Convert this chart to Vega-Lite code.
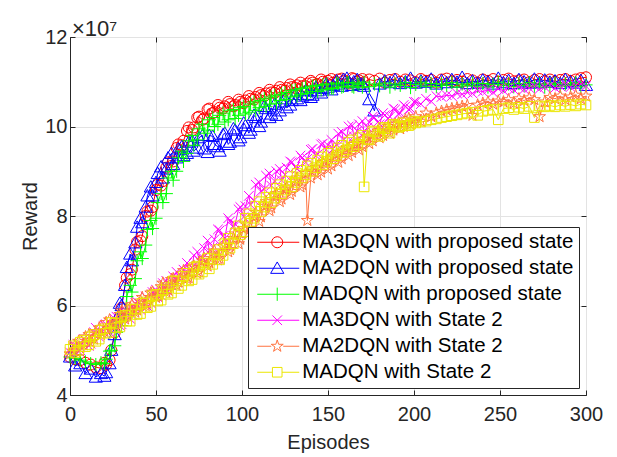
{
"$schema":"https://vega.github.io/schema/vega-lite/v6.json",
"width":516,"height":358,
"autosize":{"type":"none"},
"padding":{"left":70,"top":37,"right":31,"bottom":62},
"background":"white",
"title":{"text":"×10⁷","anchor":"start","frame":"group","fontSize":22,"fontWeight":"normal","font":"Liberation Sans","color":"#262626","offset":4,"baseline":"alphabetic","dx":2,"dy":35},
"config":{"view":{"stroke":"#262626","strokeWidth":1},"font":"Liberation Sans"},
"datasets":{
"series":[{"s":"a","name":"MA3DQN with proposed state"},{"s":"b","name":"MA2DQN with proposed state"},{"s":"c","name":"MADQN with proposed state"},{"s":"d","name":"MA3DQN with State 2"},{"s":"f","name":"MA2DQN with State 2"},{"s":"g","name":"MADQN with State 2"}],
"pts":[
{"e":0,"s":"a","r":4.85},{"e":3,"s":"a","r":4.8},{"e":6,"s":"a","r":4.78},{"e":9,"s":"a","r":4.72},{"e":12,"s":"a","r":4.68},{"e":15,"s":"a","r":4.62},{"e":18,"s":"a","r":4.6},{"e":21,"s":"a","r":4.68},{"e":24,"s":"a","r":5.0},{"e":27,"s":"a","r":5.6},{"e":30,"s":"a","r":5.95},{"e":33,"s":"a","r":6.62},{"e":36,"s":"a","r":6.8},{"e":39,"s":"a","r":7.42},{"e":42,"s":"a","r":7.55},{"e":45,"s":"a","r":8.1},{"e":48,"s":"a","r":8.2},{"e":51,"s":"a","r":8.7},{"e":54,"s":"a","r":8.78},{"e":57,"s":"a","r":9.2},{"e":60,"s":"a","r":9.22},{"e":63,"s":"a","r":9.6},{"e":66,"s":"a","r":9.68},{"e":69,"s":"a","r":9.98},{"e":72,"s":"a","r":9.98},{"e":75,"s":"a","r":10.22},{"e":78,"s":"a","r":10.18},{"e":81,"s":"a","r":10.4},{"e":84,"s":"a","r":10.32},{"e":87,"s":"a","r":10.42},{"e":90,"s":"a","r":10.45},{"e":93,"s":"a","r":10.5},{"e":96,"s":"a","r":10.48},{"e":99,"s":"a","r":10.55},{"e":102,"s":"a","r":10.58},{"e":105,"s":"a","r":10.62},{"e":108,"s":"a","r":10.66},{"e":111,"s":"a","r":10.7},{"e":114,"s":"a","r":10.74},{"e":117,"s":"a","r":10.76},{"e":120,"s":"a","r":10.8},{"e":123,"s":"a","r":10.82},{"e":126,"s":"a","r":10.86},{"e":129,"s":"a","r":10.88},{"e":132,"s":"a","r":10.92},{"e":135,"s":"a","r":10.9},{"e":138,"s":"a","r":10.96},{"e":141,"s":"a","r":10.98},{"e":144,"s":"a","r":10.95},{"e":147,"s":"a","r":11.0},{"e":150,"s":"a","r":11.02},{"e":153,"s":"a","r":10.98},{"e":156,"s":"a","r":11.05},{"e":159,"s":"a","r":11.02},{"e":162,"s":"a","r":10.96},{"e":165,"s":"a","r":11.06},{"e":168,"s":"a","r":11.03},{"e":171,"s":"a","r":10.99},{"e":174,"s":"a","r":11.05},{"e":177,"s":"a","r":11.02},{"e":180,"s":"a","r":11.07},{"e":183,"s":"a","r":10.98},{"e":186,"s":"a","r":11.04},{"e":189,"s":"a","r":11.06},{"e":192,"s":"a","r":11.0},{"e":195,"s":"a","r":11.05},{"e":198,"s":"a","r":11.03},{"e":201,"s":"a","r":10.99},{"e":204,"s":"a","r":11.06},{"e":207,"s":"a","r":11.02},{"e":210,"s":"a","r":11.04},{"e":213,"s":"a","r":10.98},{"e":216,"s":"a","r":11.05},{"e":219,"s":"a","r":11.07},{"e":222,"s":"a","r":11.01},{"e":225,"s":"a","r":11.04},{"e":228,"s":"a","r":11.0},{"e":231,"s":"a","r":11.06},{"e":234,"s":"a","r":11.03},{"e":237,"s":"a","r":10.98},{"e":240,"s":"a","r":11.05},{"e":243,"s":"a","r":11.02},{"e":246,"s":"a","r":11.06},{"e":249,"s":"a","r":11.0},{"e":252,"s":"a","r":11.04},{"e":255,"s":"a","r":11.07},{"e":258,"s":"a","r":11.01},{"e":261,"s":"a","r":11.03},{"e":264,"s":"a","r":11.05},{"e":267,"s":"a","r":10.99},{"e":270,"s":"a","r":11.04},{"e":273,"s":"a","r":11.06},{"e":276,"s":"a","r":11.02},{"e":279,"s":"a","r":11.05},{"e":282,"s":"a","r":11.0},{"e":285,"s":"a","r":11.04},{"e":288,"s":"a","r":11.06},{"e":291,"s":"a","r":11.02},{"e":294,"s":"a","r":11.05},{"e":297,"s":"a","r":11.08},{"e":300,"s":"a","r":11.1},
{"e":20,"s":"a","r":4.72},{"e":23,"s":"a","r":4.78},{"e":26,"s":"a","r":5.4},{"e":29,"s":"a","r":5.75},{"e":32,"s":"a","r":6.45},{"e":35,"s":"a","r":6.7},{"e":38,"s":"a","r":7.25},{"e":41,"s":"a","r":7.45},{"e":44,"s":"a","r":8.0},{"e":47,"s":"a","r":8.12},{"e":50,"s":"a","r":8.58},{"e":53,"s":"a","r":8.68},{"e":56,"s":"a","r":9.08},{"e":59,"s":"a","r":9.12},{"e":62,"s":"a","r":9.52},{"e":65,"s":"a","r":9.58},{"e":68,"s":"a","r":9.9},{"e":71,"s":"a","r":9.92},{"e":74,"s":"a","r":10.2},{"e":77,"s":"a","r":10.15},{"e":80,"s":"a","r":10.38},{"e":83,"s":"a","r":10.3},{"e":86,"s":"a","r":10.48},{"e":89,"s":"a","r":10.4},{"e":92,"s":"a","r":10.55},{"e":95,"s":"a","r":10.45},{"e":98,"s":"a","r":10.6},{"e":101,"s":"a","r":10.52},{"e":104,"s":"a","r":10.68},{"e":107,"s":"a","r":10.6},{"e":110,"s":"a","r":10.75},{"e":113,"s":"a","r":10.68},{"e":116,"s":"a","r":10.82},{"e":119,"s":"a","r":10.75},{"e":122,"s":"a","r":10.88},{"e":125,"s":"a","r":10.8},{"e":128,"s":"a","r":10.94},{"e":131,"s":"a","r":10.86},{"e":134,"s":"a","r":10.98},{"e":137,"s":"a","r":10.9},{"e":140,"s":"a","r":11.02},{"e":143,"s":"a","r":10.94},{"e":146,"s":"a","r":11.05},{"e":149,"s":"a","r":10.97},{"e":152,"s":"a","r":11.06},{"e":155,"s":"a","r":10.99},{"e":158,"s":"a","r":11.07},{"e":161,"s":"a","r":11.0},{"e":164,"s":"a","r":11.08},{"e":167,"s":"a","r":11.0},{"e":170,"s":"a","r":11.06},
{"e":0,"s":"b","r":4.85},{"e":3,"s":"b","r":4.65},{"e":6,"s":"b","r":4.7},{"e":9,"s":"b","r":4.48},{"e":12,"s":"b","r":4.58},{"e":15,"s":"b","r":4.4},{"e":18,"s":"b","r":4.48},{"e":21,"s":"b","r":4.5},{"e":24,"s":"b","r":5.0},{"e":27,"s":"b","r":5.7},{"e":30,"s":"b","r":6.0},{"e":33,"s":"b","r":6.85},{"e":36,"s":"b","r":7.0},{"e":39,"s":"b","r":7.75},{"e":42,"s":"b","r":7.85},{"e":45,"s":"b","r":8.45},{"e":48,"s":"b","r":8.45},{"e":51,"s":"b","r":8.95},{"e":54,"s":"b","r":8.85},{"e":57,"s":"b","r":9.3},{"e":60,"s":"b","r":9.15},{"e":63,"s":"b","r":9.5},{"e":66,"s":"b","r":9.35},{"e":69,"s":"b","r":9.65},{"e":72,"s":"b","r":9.45},{"e":75,"s":"b","r":9.75},{"e":78,"s":"b","r":9.5},{"e":81,"s":"b","r":9.8},{"e":84,"s":"b","r":9.6},{"e":87,"s":"b","r":9.45},{"e":90,"s":"b","r":9.85},{"e":93,"s":"b","r":9.65},{"e":96,"s":"b","r":9.92},{"e":99,"s":"b","r":9.75},{"e":102,"s":"b","r":10.02},{"e":105,"s":"b","r":9.92},{"e":108,"s":"b","r":10.2},{"e":111,"s":"b","r":10.1},{"e":114,"s":"b","r":10.4},{"e":117,"s":"b","r":10.28},{"e":120,"s":"b","r":10.25},{"e":123,"s":"b","r":10.55},{"e":126,"s":"b","r":10.42},{"e":129,"s":"b","r":10.58},{"e":132,"s":"b","r":10.62},{"e":135,"s":"b","r":10.68},{"e":138,"s":"b","r":10.72},{"e":141,"s":"b","r":10.7},{"e":144,"s":"b","r":10.8},{"e":147,"s":"b","r":10.85},{"e":150,"s":"b","r":10.88},{"e":153,"s":"b","r":10.92},{"e":156,"s":"b","r":10.95},{"e":159,"s":"b","r":11.05},{"e":162,"s":"b","r":10.98},{"e":165,"s":"b","r":11.0},{"e":168,"s":"b","r":10.94},{"e":171,"s":"b","r":10.9},{"e":174,"s":"b","r":10.6},{"e":177,"s":"b","r":10.35},{"e":180,"s":"b","r":10.95},{"e":183,"s":"b","r":11.02},{"e":186,"s":"b","r":10.98},{"e":189,"s":"b","r":11.05},{"e":192,"s":"b","r":10.96},{"e":195,"s":"b","r":11.0},{"e":198,"s":"b","r":11.08},{"e":201,"s":"b","r":10.97},{"e":204,"s":"b","r":11.02},{"e":207,"s":"b","r":10.99},{"e":210,"s":"b","r":11.06},{"e":213,"s":"b","r":10.95},{"e":216,"s":"b","r":11.03},{"e":219,"s":"b","r":10.98},{"e":222,"s":"b","r":11.05},{"e":225,"s":"b","r":10.99},{"e":228,"s":"b","r":11.1},{"e":231,"s":"b","r":10.96},{"e":234,"s":"b","r":11.02},{"e":237,"s":"b","r":10.97},{"e":240,"s":"b","r":11.04},{"e":243,"s":"b","r":11.0},{"e":246,"s":"b","r":10.95},{"e":249,"s":"b","r":11.08},{"e":252,"s":"b","r":10.98},{"e":255,"s":"b","r":11.03},{"e":258,"s":"b","r":10.96},{"e":261,"s":"b","r":11.05},{"e":264,"s":"b","r":11.0},{"e":267,"s":"b","r":10.97},{"e":270,"s":"b","r":11.06},{"e":273,"s":"b","r":10.98},{"e":276,"s":"b","r":11.04},{"e":279,"s":"b","r":10.99},{"e":282,"s":"b","r":11.02},{"e":285,"s":"b","r":10.96},{"e":288,"s":"b","r":11.05},{"e":291,"s":"b","r":11.0},{"e":294,"s":"b","r":10.97},{"e":297,"s":"b","r":11.03},{"e":300,"s":"b","r":10.92},
{"e":20,"s":"b","r":4.42},{"e":23,"s":"b","r":4.7},{"e":26,"s":"b","r":5.35},{"e":29,"s":"b","r":6.05},{"e":32,"s":"b","r":6.45},{"e":35,"s":"b","r":7.15},{"e":38,"s":"b","r":7.4},{"e":41,"s":"b","r":7.95},{"e":44,"s":"b","r":8.2},{"e":47,"s":"b","r":8.65},{"e":50,"s":"b","r":8.75},{"e":53,"s":"b","r":9.1},{"e":56,"s":"b","r":9.05},{"e":59,"s":"b","r":9.4},{"e":62,"s":"b","r":9.3},{"e":65,"s":"b","r":9.55},{"e":68,"s":"b","r":9.4},{"e":71,"s":"b","r":9.68},{"e":74,"s":"b","r":9.52},{"e":77,"s":"b","r":9.8},{"e":80,"s":"b","r":9.42},{"e":83,"s":"b","r":9.78},{"e":86,"s":"b","r":9.55},{"e":89,"s":"b","r":9.82},{"e":92,"s":"b","r":9.6},{"e":95,"s":"b","r":9.95},{"e":98,"s":"b","r":9.68},{"e":101,"s":"b","r":10.08},{"e":104,"s":"b","r":9.85},{"e":107,"s":"b","r":10.25},{"e":110,"s":"b","r":10.0},{"e":113,"s":"b","r":10.45},{"e":116,"s":"b","r":10.2},{"e":119,"s":"b","r":10.5},{"e":122,"s":"b","r":10.35},{"e":125,"s":"b","r":10.62},{"e":128,"s":"b","r":10.48},{"e":131,"s":"b","r":10.72},{"e":134,"s":"b","r":10.58},{"e":137,"s":"b","r":10.8},{"e":140,"s":"b","r":10.65},{"e":143,"s":"b","r":10.88},{"e":146,"s":"b","r":10.75},{"e":149,"s":"b","r":10.95},{"e":152,"s":"b","r":10.82},{"e":155,"s":"b","r":11.02},{"e":158,"s":"b","r":10.9},{"e":161,"s":"b","r":11.08},{"e":164,"s":"b","r":10.92},{"e":167,"s":"b","r":11.05},{"e":170,"s":"b","r":10.95},
{"e":0,"s":"c","r":4.85},{"e":3,"s":"c","r":4.82},{"e":6,"s":"c","r":4.78},{"e":9,"s":"c","r":4.74},{"e":12,"s":"c","r":4.7},{"e":15,"s":"c","r":4.68},{"e":18,"s":"c","r":4.72},{"e":21,"s":"c","r":4.8},{"e":24,"s":"c","r":5.0},{"e":27,"s":"c","r":5.4},{"e":30,"s":"c","r":5.55},{"e":33,"s":"c","r":6.2},{"e":36,"s":"c","r":6.3},{"e":39,"s":"c","r":7.0},{"e":42,"s":"c","r":7.05},{"e":45,"s":"c","r":7.7},{"e":48,"s":"c","r":7.72},{"e":51,"s":"c","r":8.3},{"e":54,"s":"c","r":8.3},{"e":57,"s":"c","r":8.85},{"e":60,"s":"c","r":8.8},{"e":63,"s":"c","r":9.3},{"e":66,"s":"c","r":9.22},{"e":69,"s":"c","r":9.68},{"e":72,"s":"c","r":9.58},{"e":75,"s":"c","r":9.95},{"e":78,"s":"c","r":9.85},{"e":81,"s":"c","r":10.15},{"e":84,"s":"c","r":10.0},{"e":87,"s":"c","r":10.25},{"e":90,"s":"c","r":10.1},{"e":93,"s":"c","r":10.35},{"e":96,"s":"c","r":10.18},{"e":99,"s":"c","r":10.42},{"e":102,"s":"c","r":10.28},{"e":105,"s":"c","r":10.5},{"e":108,"s":"c","r":10.36},{"e":111,"s":"c","r":10.58},{"e":114,"s":"c","r":10.45},{"e":117,"s":"c","r":10.66},{"e":120,"s":"c","r":10.52},{"e":123,"s":"c","r":10.72},{"e":126,"s":"c","r":10.6},{"e":129,"s":"c","r":10.8},{"e":132,"s":"c","r":10.68},{"e":135,"s":"c","r":10.85},{"e":138,"s":"c","r":10.74},{"e":141,"s":"c","r":10.9},{"e":144,"s":"c","r":10.78},{"e":147,"s":"c","r":10.93},{"e":150,"s":"c","r":10.82},{"e":153,"s":"c","r":10.85},{"e":156,"s":"c","r":10.95},{"e":159,"s":"c","r":10.9},{"e":162,"s":"c","r":10.98},{"e":165,"s":"c","r":10.88},{"e":168,"s":"c","r":10.94},{"e":171,"s":"c","r":10.99},{"e":174,"s":"c","r":10.89},{"e":177,"s":"c","r":10.95},{"e":180,"s":"c","r":10.91},{"e":183,"s":"c","r":10.97},{"e":186,"s":"c","r":10.88},{"e":189,"s":"c","r":10.95},{"e":192,"s":"c","r":10.92},{"e":195,"s":"c","r":10.98},{"e":198,"s":"c","r":10.87},{"e":201,"s":"c","r":10.94},{"e":204,"s":"c","r":10.99},{"e":207,"s":"c","r":10.9},{"e":210,"s":"c","r":10.96},{"e":213,"s":"c","r":10.89},{"e":216,"s":"c","r":10.95},{"e":219,"s":"c","r":10.92},{"e":222,"s":"c","r":10.98},{"e":225,"s":"c","r":10.88},{"e":228,"s":"c","r":10.95},{"e":231,"s":"c","r":10.91},{"e":234,"s":"c","r":10.97},{"e":237,"s":"c","r":10.9},{"e":240,"s":"c","r":10.96},{"e":243,"s":"c","r":10.88},{"e":246,"s":"c","r":10.94},{"e":249,"s":"c","r":10.99},{"e":252,"s":"c","r":10.91},{"e":255,"s":"c","r":10.95},{"e":258,"s":"c","r":10.89},{"e":261,"s":"c","r":10.96},{"e":264,"s":"c","r":10.92},{"e":267,"s":"c","r":10.98},{"e":270,"s":"c","r":10.9},{"e":273,"s":"c","r":10.95},{"e":276,"s":"c","r":10.88},{"e":279,"s":"c","r":10.94},{"e":282,"s":"c","r":10.97},{"e":285,"s":"c","r":10.9},{"e":288,"s":"c","r":10.95},{"e":291,"s":"c","r":10.92},{"e":294,"s":"c","r":10.98},{"e":297,"s":"c","r":10.89},{"e":300,"s":"c","r":10.93},
{"e":20,"s":"c","r":4.7},{"e":23,"s":"c","r":4.98},{"e":26,"s":"c","r":5.1},{"e":29,"s":"c","r":5.65},{"e":32,"s":"c","r":5.8},{"e":35,"s":"c","r":6.45},{"e":38,"s":"c","r":6.6},{"e":41,"s":"c","r":7.2},{"e":44,"s":"c","r":7.35},{"e":47,"s":"c","r":7.9},{"e":50,"s":"c","r":7.95},{"e":53,"s":"c","r":8.5},{"e":56,"s":"c","r":8.5},{"e":59,"s":"c","r":9.0},{"e":62,"s":"c","r":9.0},{"e":65,"s":"c","r":9.45},{"e":68,"s":"c","r":9.4},{"e":71,"s":"c","r":9.8},{"e":74,"s":"c","r":9.7},{"e":77,"s":"c","r":10.05},{"e":80,"s":"c","r":9.92},{"e":83,"s":"c","r":10.2},{"e":86,"s":"c","r":10.05},{"e":89,"s":"c","r":10.3},{"e":92,"s":"c","r":10.15},{"e":95,"s":"c","r":10.38},{"e":98,"s":"c","r":10.25},{"e":101,"s":"c","r":10.45},{"e":104,"s":"c","r":10.32},{"e":107,"s":"c","r":10.55},{"e":110,"s":"c","r":10.42},{"e":113,"s":"c","r":10.62},{"e":116,"s":"c","r":10.5},{"e":119,"s":"c","r":10.7},{"e":122,"s":"c","r":10.58},{"e":125,"s":"c","r":10.76},{"e":128,"s":"c","r":10.66},{"e":131,"s":"c","r":10.82},{"e":134,"s":"c","r":10.72},{"e":137,"s":"c","r":10.88},{"e":140,"s":"c","r":10.78},{"e":143,"s":"c","r":10.92},{"e":146,"s":"c","r":10.82},{"e":149,"s":"c","r":10.95},{"e":152,"s":"c","r":10.86},{"e":155,"s":"c","r":10.97},{"e":158,"s":"c","r":10.88},{"e":161,"s":"c","r":10.98},{"e":164,"s":"c","r":10.9},{"e":167,"s":"c","r":10.97},{"e":170,"s":"c","r":10.88},
{"e":0,"s":"d","r":4.95},{"e":3,"s":"d","r":5.1},{"e":6,"s":"d","r":5.0},{"e":9,"s":"d","r":5.22},{"e":12,"s":"d","r":5.15},{"e":15,"s":"d","r":5.5},{"e":18,"s":"d","r":5.38},{"e":21,"s":"d","r":5.58},{"e":24,"s":"d","r":5.45},{"e":27,"s":"d","r":5.75},{"e":30,"s":"d","r":5.58},{"e":33,"s":"d","r":5.88},{"e":36,"s":"d","r":5.78},{"e":39,"s":"d","r":6.08},{"e":42,"s":"d","r":5.98},{"e":45,"s":"d","r":5.98},{"e":48,"s":"d","r":6.3},{"e":51,"s":"d","r":6.18},{"e":54,"s":"d","r":6.5},{"e":57,"s":"d","r":6.32},{"e":60,"s":"d","r":6.65},{"e":63,"s":"d","r":6.52},{"e":66,"s":"d","r":6.8},{"e":69,"s":"d","r":6.72},{"e":72,"s":"d","r":7.12},{"e":75,"s":"d","r":7.02},{"e":78,"s":"d","r":7.28},{"e":81,"s":"d","r":7.22},{"e":84,"s":"d","r":7.48},{"e":87,"s":"d","r":7.68},{"e":90,"s":"d","r":7.5},{"e":93,"s":"d","r":7.88},{"e":96,"s":"d","r":7.82},{"e":99,"s":"d","r":8.2},{"e":102,"s":"d","r":8.22},{"e":105,"s":"d","r":8.25},{"e":108,"s":"d","r":8.7},{"e":111,"s":"d","r":8.55},{"e":114,"s":"d","r":8.9},{"e":117,"s":"d","r":8.68},{"e":120,"s":"d","r":9.0},{"e":123,"s":"d","r":8.8},{"e":126,"s":"d","r":9.08},{"e":129,"s":"d","r":9.2},{"e":132,"s":"d","r":9.05},{"e":135,"s":"d","r":9.3},{"e":138,"s":"d","r":9.28},{"e":141,"s":"d","r":9.5},{"e":144,"s":"d","r":9.38},{"e":147,"s":"d","r":9.62},{"e":150,"s":"d","r":9.58},{"e":153,"s":"d","r":9.5},{"e":156,"s":"d","r":9.84},{"e":159,"s":"d","r":9.7},{"e":162,"s":"d","r":10.0},{"e":165,"s":"d","r":9.78},{"e":168,"s":"d","r":10.05},{"e":171,"s":"d","r":9.86},{"e":174,"s":"d","r":10.1},{"e":177,"s":"d","r":10.2},{"e":180,"s":"d","r":10.05},{"e":183,"s":"d","r":10.25},{"e":186,"s":"d","r":10.22},{"e":189,"s":"d","r":10.38},{"e":192,"s":"d","r":10.3},{"e":195,"s":"d","r":10.45},{"e":198,"s":"d","r":10.4},{"e":201,"s":"d","r":10.55},{"e":204,"s":"d","r":10.5},{"e":207,"s":"d","r":10.62},{"e":210,"s":"d","r":10.56},{"e":213,"s":"d","r":10.68},{"e":216,"s":"d","r":10.66},{"e":219,"s":"d","r":10.7},{"e":222,"s":"d","r":10.68},{"e":225,"s":"d","r":10.74},{"e":228,"s":"d","r":10.72},{"e":231,"s":"d","r":10.76},{"e":234,"s":"d","r":10.74},{"e":237,"s":"d","r":10.8},{"e":240,"s":"d","r":10.78},{"e":243,"s":"d","r":10.82},{"e":246,"s":"d","r":10.76},{"e":249,"s":"d","r":10.84},{"e":252,"s":"d","r":10.8},{"e":255,"s":"d","r":10.85},{"e":258,"s":"d","r":10.82},{"e":261,"s":"d","r":10.88},{"e":264,"s":"d","r":10.83},{"e":267,"s":"d","r":10.86},{"e":270,"s":"d","r":10.9},{"e":273,"s":"d","r":10.84},{"e":276,"s":"d","r":10.88},{"e":279,"s":"d","r":10.92},{"e":282,"s":"d","r":10.86},{"e":285,"s":"d","r":10.9},{"e":288,"s":"d","r":10.94},{"e":291,"s":"d","r":10.88},{"e":294,"s":"d","r":10.92},{"e":297,"s":"d","r":10.95},{"e":300,"s":"d","r":10.9},
{"e":2,"s":"d","r":5.12},{"e":5,"s":"d","r":4.98},{"e":8,"s":"d","r":5.25},{"e":11,"s":"d","r":5.1},{"e":14,"s":"d","r":5.4},{"e":17,"s":"d","r":5.3},{"e":20,"s":"d","r":5.55},{"e":23,"s":"d","r":5.4},{"e":26,"s":"d","r":5.7},{"e":29,"s":"d","r":5.55},{"e":32,"s":"d","r":5.85},{"e":35,"s":"d","r":5.7},{"e":38,"s":"d","r":6.05},{"e":41,"s":"d","r":5.9},{"e":44,"s":"d","r":6.2},{"e":47,"s":"d","r":6.05},{"e":50,"s":"d","r":6.35},{"e":53,"s":"d","r":6.22},{"e":56,"s":"d","r":6.55},{"e":59,"s":"d","r":6.45},{"e":62,"s":"d","r":6.75},{"e":65,"s":"d","r":6.6},{"e":68,"s":"d","r":6.95},{"e":71,"s":"d","r":6.85},{"e":74,"s":"d","r":7.2},{"e":77,"s":"d","r":7.05},{"e":80,"s":"d","r":7.45},{"e":83,"s":"d","r":7.3},{"e":86,"s":"d","r":7.7},{"e":89,"s":"d","r":7.55},{"e":92,"s":"d","r":7.95},{"e":95,"s":"d","r":7.75},{"e":98,"s":"d","r":8.15},{"e":101,"s":"d","r":7.98},{"e":104,"s":"d","r":8.45},{"e":107,"s":"d","r":8.35},{"e":110,"s":"d","r":8.75},{"e":113,"s":"d","r":8.6},{"e":116,"s":"d","r":8.95},{"e":119,"s":"d","r":8.78},{"e":122,"s":"d","r":9.05},{"e":125,"s":"d","r":8.92},{"e":128,"s":"d","r":9.22},{"e":131,"s":"d","r":9.1},{"e":134,"s":"d","r":9.35},{"e":137,"s":"d","r":9.2},{"e":140,"s":"d","r":9.48},{"e":143,"s":"d","r":9.35},{"e":146,"s":"d","r":9.6},{"e":149,"s":"d","r":9.48},{"e":152,"s":"d","r":9.7},{"e":155,"s":"d","r":9.6},{"e":158,"s":"d","r":9.88},{"e":161,"s":"d","r":9.78},{"e":164,"s":"d","r":10.02},{"e":167,"s":"d","r":9.9},{"e":170,"s":"d","r":10.12},{"e":173,"s":"d","r":9.98},{"e":176,"s":"d","r":10.22},{"e":179,"s":"d","r":10.1},{"e":182,"s":"d","r":10.3},{"e":185,"s":"d","r":10.18},{"e":188,"s":"d","r":10.4},{"e":191,"s":"d","r":10.28},{"e":194,"s":"d","r":10.48},{"e":197,"s":"d","r":10.38},{"e":200,"s":"d","r":10.55},
{"e":0,"s":"f","r":4.92},{"e":3,"s":"f","r":5.12},{"e":6,"s":"f","r":5.05},{"e":9,"s":"f","r":5.3},{"e":12,"s":"f","r":5.18},{"e":15,"s":"f","r":5.42},{"e":18,"s":"f","r":5.35},{"e":21,"s":"f","r":5.62},{"e":24,"s":"f","r":5.55},{"e":27,"s":"f","r":5.62},{"e":30,"s":"f","r":5.88},{"e":33,"s":"f","r":5.78},{"e":36,"s":"f","r":6.02},{"e":39,"s":"f","r":5.9},{"e":42,"s":"f","r":6.18},{"e":45,"s":"f","r":6.05},{"e":48,"s":"f","r":6.3},{"e":51,"s":"f","r":6.22},{"e":54,"s":"f","r":6.5},{"e":57,"s":"f","r":6.35},{"e":60,"s":"f","r":6.6},{"e":63,"s":"f","r":6.52},{"e":66,"s":"f","r":6.78},{"e":69,"s":"f","r":6.62},{"e":72,"s":"f","r":6.88},{"e":75,"s":"f","r":6.75},{"e":78,"s":"f","r":7.05},{"e":81,"s":"f","r":6.95},{"e":84,"s":"f","r":7.22},{"e":87,"s":"f","r":7.05},{"e":90,"s":"f","r":7.35},{"e":93,"s":"f","r":7.25},{"e":96,"s":"f","r":7.6},{"e":99,"s":"f","r":7.48},{"e":102,"s":"f","r":7.82},{"e":105,"s":"f","r":7.72},{"e":108,"s":"f","r":8.08},{"e":111,"s":"f","r":7.98},{"e":114,"s":"f","r":8.32},{"e":117,"s":"f","r":8.18},{"e":120,"s":"f","r":8.5},{"e":123,"s":"f","r":8.38},{"e":126,"s":"f","r":8.65},{"e":129,"s":"f","r":8.55},{"e":132,"s":"f","r":8.85},{"e":135,"s":"f","r":8.7},{"e":138,"s":"f","r":7.9},{"e":141,"s":"f","r":9.0},{"e":144,"s":"f","r":8.92},{"e":147,"s":"f","r":9.2},{"e":150,"s":"f","r":9.05},{"e":153,"s":"f","r":9.32},{"e":156,"s":"f","r":9.2},{"e":159,"s":"f","r":9.45},{"e":162,"s":"f","r":9.35},{"e":165,"s":"f","r":9.6},{"e":168,"s":"f","r":9.48},{"e":171,"s":"f","r":9.72},{"e":174,"s":"f","r":9.62},{"e":177,"s":"f","r":9.85},{"e":180,"s":"f","r":9.75},{"e":183,"s":"f","r":9.95},{"e":186,"s":"f","r":9.85},{"e":189,"s":"f","r":10.05},{"e":192,"s":"f","r":9.95},{"e":195,"s":"f","r":10.15},{"e":198,"s":"f","r":10.05},{"e":201,"s":"f","r":10.22},{"e":204,"s":"f","r":10.12},{"e":207,"s":"f","r":10.3},{"e":210,"s":"f","r":10.22},{"e":213,"s":"f","r":10.3},{"e":216,"s":"f","r":10.34},{"e":219,"s":"f","r":10.37},{"e":222,"s":"f","r":10.4},{"e":225,"s":"f","r":10.42},{"e":228,"s":"f","r":10.45},{"e":231,"s":"f","r":10.47},{"e":234,"s":"f","r":10.25},{"e":237,"s":"f","r":10.48},{"e":240,"s":"f","r":10.52},{"e":243,"s":"f","r":10.55},{"e":246,"s":"f","r":10.5},{"e":249,"s":"f","r":10.57},{"e":252,"s":"f","r":10.55},{"e":255,"s":"f","r":10.6},{"e":258,"s":"f","r":10.52},{"e":261,"s":"f","r":10.62},{"e":264,"s":"f","r":10.58},{"e":267,"s":"f","r":10.64},{"e":270,"s":"f","r":10.6},{"e":273,"s":"f","r":10.22},{"e":276,"s":"f","r":10.55},{"e":279,"s":"f","r":10.65},{"e":282,"s":"f","r":10.62},{"e":285,"s":"f","r":10.68},{"e":288,"s":"f","r":10.6},{"e":291,"s":"f","r":10.66},{"e":294,"s":"f","r":10.7},{"e":297,"s":"f","r":10.62},{"e":300,"s":"f","r":10.68},
{"e":2,"s":"f","r":4.98},{"e":5,"s":"f","r":5.2},{"e":8,"s":"f","r":5.12},{"e":11,"s":"f","r":5.35},{"e":14,"s":"f","r":5.25},{"e":17,"s":"f","r":5.5},{"e":20,"s":"f","r":5.42},{"e":23,"s":"f","r":5.68},{"e":26,"s":"f","r":5.55},{"e":29,"s":"f","r":5.8},{"e":32,"s":"f","r":5.7},{"e":35,"s":"f","r":5.95},{"e":38,"s":"f","r":5.85},{"e":41,"s":"f","r":6.1},{"e":44,"s":"f","r":6.0},{"e":47,"s":"f","r":6.28},{"e":50,"s":"f","r":6.18},{"e":53,"s":"f","r":6.42},{"e":56,"s":"f","r":6.3},{"e":59,"s":"f","r":6.58},{"e":62,"s":"f","r":6.45},{"e":65,"s":"f","r":6.72},{"e":68,"s":"f","r":6.6},{"e":71,"s":"f","r":6.85},{"e":74,"s":"f","r":6.72},{"e":77,"s":"f","r":7.0},{"e":80,"s":"f","r":6.88},{"e":83,"s":"f","r":7.15},{"e":86,"s":"f","r":7.02},{"e":89,"s":"f","r":7.32},{"e":92,"s":"f","r":7.2},{"e":95,"s":"f","r":7.5},{"e":98,"s":"f","r":7.38},{"e":101,"s":"f","r":7.72},{"e":104,"s":"f","r":7.62},{"e":107,"s":"f","r":7.98},{"e":110,"s":"f","r":7.88},{"e":113,"s":"f","r":8.22},{"e":116,"s":"f","r":8.12},{"e":119,"s":"f","r":8.45},{"e":122,"s":"f","r":8.32},{"e":125,"s":"f","r":8.6},{"e":128,"s":"f","r":8.48},{"e":131,"s":"f","r":8.78},{"e":134,"s":"f","r":8.65},{"e":137,"s":"f","r":8.95},{"e":140,"s":"f","r":8.85},{"e":143,"s":"f","r":9.08},{"e":146,"s":"f","r":8.98},{"e":149,"s":"f","r":9.22},{"e":152,"s":"f","r":9.12},{"e":155,"s":"f","r":9.38},{"e":158,"s":"f","r":9.28},{"e":161,"s":"f","r":9.52},{"e":164,"s":"f","r":9.42},{"e":167,"s":"f","r":9.62},{"e":170,"s":"f","r":9.55},{"e":173,"s":"f","r":9.78},{"e":176,"s":"f","r":9.68},{"e":179,"s":"f","r":9.9},{"e":182,"s":"f","r":9.8},{"e":185,"s":"f","r":10.0},{"e":188,"s":"f","r":9.92},{"e":191,"s":"f","r":10.08},{"e":194,"s":"f","r":10.0},{"e":197,"s":"f","r":10.18},{"e":200,"s":"f","r":10.1},
{"e":0,"s":"g","r":5.02},{"e":3,"s":"g","r":4.95},{"e":6,"s":"g","r":5.18},{"e":9,"s":"g","r":5.08},{"e":12,"s":"g","r":5.3},{"e":15,"s":"g","r":5.2},{"e":18,"s":"g","r":5.45},{"e":21,"s":"g","r":5.38},{"e":24,"s":"g","r":5.62},{"e":27,"s":"g","r":5.5},{"e":30,"s":"g","r":5.75},{"e":33,"s":"g","r":5.65},{"e":36,"s":"g","r":5.92},{"e":39,"s":"g","r":5.8},{"e":42,"s":"g","r":6.05},{"e":45,"s":"g","r":5.95},{"e":48,"s":"g","r":6.22},{"e":51,"s":"g","r":6.1},{"e":54,"s":"g","r":6.35},{"e":57,"s":"g","r":6.25},{"e":60,"s":"g","r":6.55},{"e":63,"s":"g","r":6.38},{"e":66,"s":"g","r":6.65},{"e":69,"s":"g","r":6.55},{"e":72,"s":"g","r":6.85},{"e":75,"s":"g","r":6.7},{"e":78,"s":"g","r":6.95},{"e":81,"s":"g","r":6.82},{"e":84,"s":"g","r":7.15},{"e":87,"s":"g","r":7.02},{"e":90,"s":"g","r":7.38},{"e":93,"s":"g","r":7.28},{"e":96,"s":"g","r":7.62},{"e":99,"s":"g","r":7.58},{"e":102,"s":"g","r":7.95},{"e":105,"s":"g","r":7.88},{"e":108,"s":"g","r":8.22},{"e":111,"s":"g","r":8.1},{"e":114,"s":"g","r":8.42},{"e":117,"s":"g","r":8.3},{"e":120,"s":"g","r":8.62},{"e":123,"s":"g","r":8.5},{"e":126,"s":"g","r":8.78},{"e":129,"s":"g","r":8.65},{"e":132,"s":"g","r":8.95},{"e":135,"s":"g","r":8.85},{"e":138,"s":"g","r":9.12},{"e":141,"s":"g","r":9.0},{"e":144,"s":"g","r":9.25},{"e":147,"s":"g","r":9.15},{"e":150,"s":"g","r":9.4},{"e":153,"s":"g","r":9.28},{"e":156,"s":"g","r":9.52},{"e":159,"s":"g","r":9.42},{"e":162,"s":"g","r":9.65},{"e":165,"s":"g","r":9.55},{"e":168,"s":"g","r":9.75},{"e":171,"s":"g","r":8.65},{"e":174,"s":"g","r":9.7},{"e":177,"s":"g","r":9.88},{"e":180,"s":"g","r":9.78},{"e":183,"s":"g","r":9.95},{"e":186,"s":"g","r":9.85},{"e":189,"s":"g","r":10.02},{"e":192,"s":"g","r":10.0},{"e":195,"s":"g","r":10.02},{"e":198,"s":"g","r":10.05},{"e":201,"s":"g","r":10.08},{"e":204,"s":"g","r":10.1},{"e":207,"s":"g","r":10.12},{"e":210,"s":"g","r":10.15},{"e":213,"s":"g","r":10.17},{"e":216,"s":"g","r":10.2},{"e":219,"s":"g","r":10.22},{"e":222,"s":"g","r":10.24},{"e":225,"s":"g","r":10.26},{"e":228,"s":"g","r":10.28},{"e":231,"s":"g","r":10.3},{"e":234,"s":"g","r":10.32},{"e":237,"s":"g","r":10.25},{"e":240,"s":"g","r":10.34},{"e":243,"s":"g","r":10.36},{"e":246,"s":"g","r":10.38},{"e":249,"s":"g","r":10.15},{"e":252,"s":"g","r":10.4},{"e":255,"s":"g","r":10.42},{"e":258,"s":"g","r":10.38},{"e":261,"s":"g","r":10.43},{"e":264,"s":"g","r":10.4},{"e":267,"s":"g","r":10.45},{"e":270,"s":"g","r":10.2},{"e":273,"s":"g","r":10.46},{"e":276,"s":"g","r":10.44},{"e":279,"s":"g","r":10.47},{"e":282,"s":"g","r":10.44},{"e":285,"s":"g","r":10.48},{"e":288,"s":"g","r":10.45},{"e":291,"s":"g","r":10.49},{"e":294,"s":"g","r":10.46},{"e":297,"s":"g","r":10.5},{"e":300,"s":"g","r":10.48},
{"e":2,"s":"g","r":5.1},{"e":5,"s":"g","r":5.0},{"e":8,"s":"g","r":5.22},{"e":11,"s":"g","r":5.12},{"e":14,"s":"g","r":5.35},{"e":17,"s":"g","r":5.25},{"e":20,"s":"g","r":5.48},{"e":23,"s":"g","r":5.4},{"e":26,"s":"g","r":5.6},{"e":29,"s":"g","r":5.52},{"e":32,"s":"g","r":5.78},{"e":35,"s":"g","r":5.65},{"e":38,"s":"g","r":5.92},{"e":41,"s":"g","r":5.82},{"e":44,"s":"g","r":6.08},{"e":47,"s":"g","r":5.98},{"e":50,"s":"g","r":6.25},{"e":53,"s":"g","r":6.12},{"e":56,"s":"g","r":6.4},{"e":59,"s":"g","r":6.28},{"e":62,"s":"g","r":6.55},{"e":65,"s":"g","r":6.45},{"e":68,"s":"g","r":6.72},{"e":71,"s":"g","r":6.58},{"e":74,"s":"g","r":6.88},{"e":77,"s":"g","r":6.75},{"e":80,"s":"g","r":7.05},{"e":83,"s":"g","r":6.92},{"e":86,"s":"g","r":7.25},{"e":89,"s":"g","r":7.12},{"e":92,"s":"g","r":7.5},{"e":95,"s":"g","r":7.38},{"e":98,"s":"g","r":7.78},{"e":101,"s":"g","r":7.65},{"e":104,"s":"g","r":8.05},{"e":107,"s":"g","r":7.95},{"e":110,"s":"g","r":8.32},{"e":113,"s":"g","r":8.2},{"e":116,"s":"g","r":8.52},{"e":119,"s":"g","r":8.4},{"e":122,"s":"g","r":8.7},{"e":125,"s":"g","r":8.58},{"e":128,"s":"g","r":8.88},{"e":131,"s":"g","r":8.75},{"e":134,"s":"g","r":9.02},{"e":137,"s":"g","r":8.92},{"e":140,"s":"g","r":9.18},{"e":143,"s":"g","r":9.08},{"e":146,"s":"g","r":9.32},{"e":149,"s":"g","r":9.22},{"e":152,"s":"g","r":9.45},{"e":155,"s":"g","r":9.35},{"e":158,"s":"g","r":9.58},{"e":161,"s":"g","r":9.48},{"e":164,"s":"g","r":9.7},{"e":167,"s":"g","r":9.6},{"e":170,"s":"g","r":9.8},{"e":173,"s":"g","r":9.72},{"e":176,"s":"g","r":9.9},{"e":179,"s":"g","r":9.82},{"e":182,"s":"g","r":9.98},{"e":185,"s":"g","r":9.9},{"e":188,"s":"g","r":10.05},{"e":191,"s":"g","r":9.98},{"e":194,"s":"g","r":10.08},{"e":197,"s":"g","r":10.02},{"e":200,"s":"g","r":10.12}
]},
"data":{"name":"pts"},
"transform":[{"lookup":"s","from":{"data":{"name":"series"},"key":"s","fields":["name"]}}],
"layer":[
{"mark":{"type":"line","strokeWidth":1},
"encoding":{
"x":{"field":"e","type":"quantitative","scale":{"domain":[0,300],"nice":false},"axis":{"orient":"bottom","values":[0,50,100,150,200,250,300],"title":"Episodes","titleFontSize":20,"titleFontWeight":"normal","titleColor":"#262626","titlePadding":8,"labelFontSize":20,"labelColor":"#262626","labelPadding":14,"tickSize":-5,"tickColor":"#262626","domainColor":"#262626","grid":true,"gridColor":"#e3e3e3","labelFlush":false}},
"y":{"field":"r","type":"quantitative","scale":{"domain":[4,12],"nice":false,"zero":false},"axis":{"orient":"left","values":[4,6,8,10,12],"title":"Reward","titleFontSize":20,"titleFontWeight":"normal","titleColor":"#262626","titlePadding":4,"labelFontSize":20,"labelColor":"#262626","labelPadding":8,"tickSize":-5,"tickColor":"#262626","domainColor":"#262626","grid":true,"gridColor":"#e3e3e3","labelFlush":false}},
"color":{"field":"name","type":"nominal","scale":{"domain":["MA3DQN with proposed state","MA2DQN with proposed state","MADQN with proposed state","MA3DQN with State 2","MA2DQN with State 2","MADQN with State 2"],"range":["#ff0000","#0000ff","#00ff00","#ff00ff","#ff7340","#ebe600"]},
"legend":{"title":null,"orient":"bottom-right","offset":7,"fillColor":"white","strokeColor":"#262626","padding":5,"rowPadding":5,"labelFontSize":20.5,"labelColor":"black","labelLimit":400,"labelOffset":28.7,"symbolSize":144,"symbolStrokeWidth":1,"symbolFillColor":"transparent",
"symbolType":{"expr":"datum.value==='MA3DQN with proposed state'?'M-1,0L6,0M1.41,0A0.92,0.92,0,1,0,3.25,0A0.92,0.92,0,1,0,1.41,0Z':datum.value==='MA2DQN with proposed state'?'M-1,0L6,0M2.33,-1.05L3.43,0.85L1.23,0.85Z':datum.value==='MADQN with proposed state'?'M-1,0L6,0M2.33,-1.1L2.33,1.1':datum.value==='MA3DQN with State 2'?'M-1,0L6,0M1.53,-0.8L3.13,0.8M1.53,0.8L3.13,-0.8':datum.value==='MA2DQN with State 2'?'M-1,0L1.331,0M3.329,0L6,0M2.33,-1.05L2.565,-0.323L3.329,-0.324L2.709,0.123L2.947,0.849L2.33,0.4L1.713,0.849L1.951,0.123L1.331,-0.324L2.095,-0.323Z':'M-1,0L1.53,0M3.13,0L6,0M1.53,-0.8L3.13,-0.8L3.13,0.8L1.53,0.8Z'"}}}}},
{"mark":{"type":"point","filled":false,"size":144,"strokeWidth":1,"opacity":1},
"encoding":{
"x":{"field":"e","type":"quantitative","scale":{"domain":[0,300],"nice":false},"axis":{"orient":"top","values":[0,50,100,150,200,250,300],"labels":false,"title":null,"grid":false,"domain":false,"tickSize":-5,"tickColor":"#262626"}},
"y":{"field":"r","type":"quantitative","scale":{"domain":[4,12],"nice":false,"zero":false},"axis":{"orient":"right","values":[4,6,8,10,12],"labels":false,"title":null,"grid":false,"domain":false,"tickSize":-5,"tickColor":"#262626"}},
"shape":{"field":"s","type":"nominal","scale":{"domain":["a","b","c","d","f","g"],"range":["M-0.92,0A0.92,0.92,0,1,0,0.92,0A0.92,0.92,0,1,0,-0.92,0Z","M0,-1.05L1.1,0.85L-1.1,0.85Z","M-1.1,0L1.1,0M0,-1.1L0,1.1","M-0.8,-0.8L0.8,0.8M-0.8,0.8L0.8,-0.8","M0,-1.05L0.235,-0.323L0.999,-0.324L0.379,0.123L0.617,0.849L0,0.4L-0.617,0.849L-0.379,0.123L-0.999,-0.324L-0.235,-0.323Z","M-0.8,-0.8L0.8,-0.8L0.8,0.8L-0.8,0.8Z"]},"legend":null},
"color":{"field":"name","type":"nominal","scale":{"domain":["MA3DQN with proposed state","MA2DQN with proposed state","MADQN with proposed state","MA3DQN with State 2","MA2DQN with State 2","MADQN with State 2"],"range":["#ff0000","#0000ff","#00ff00","#ff00ff","#ff7340","#ebe600"]},"legend":null}}}
],
"resolve":{"axis":{"x":"independent","y":"independent"}}
}
